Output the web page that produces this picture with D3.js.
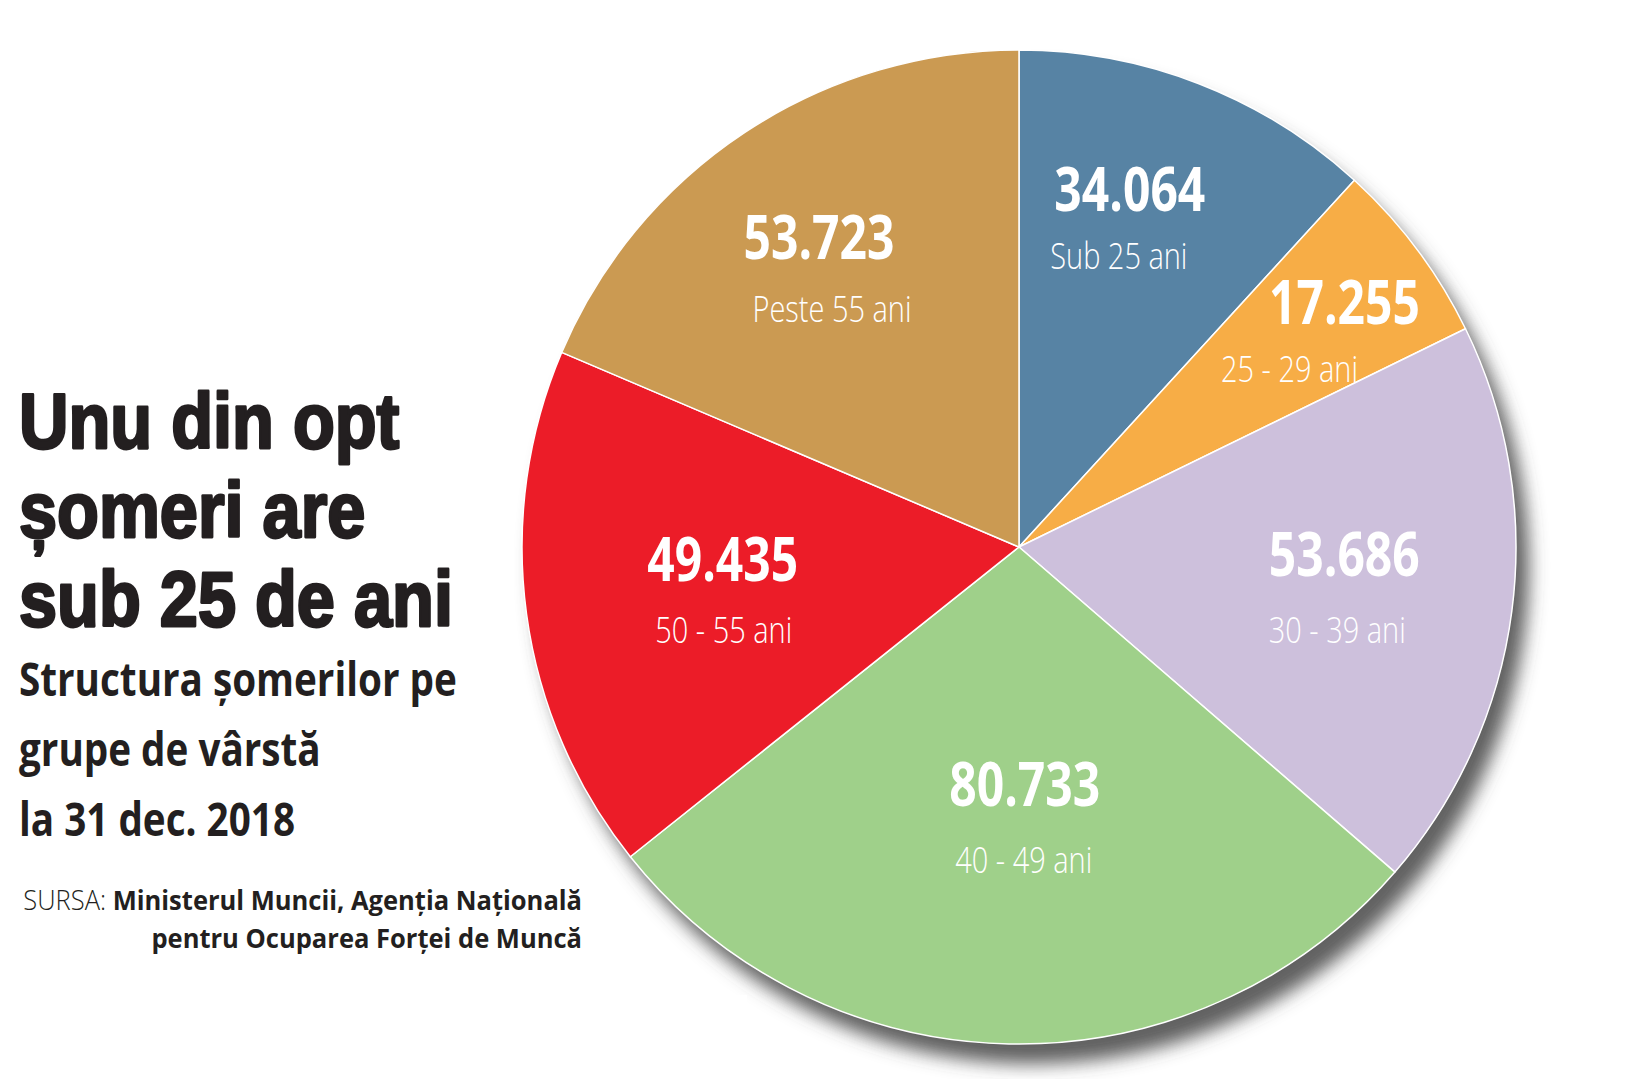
<!DOCTYPE html>
<html>
<head>
<meta charset="utf-8">
<script src="https://cdn.jsdelivr.net/npm/d3@7"></script>
<style>
  html, body { margin: 0; padding: 0; background: #ffffff; }
  svg { display: block; }
</style>
</head>
<body>
<div id="chart"></div>
<script>
// ---- data ----
const categories = ["Sub 25 ani", "25 - 29 ani", "30 - 39 ani", "40 - 49 ani", "50 - 55 ani", "Peste 55 ani"];
const values = [34064, 17255, 53686, 80733, 49435, 53723];
const sliceColors = ["#5783a4", "#f7ad46", "#cdc0dc", "#9fd08a", "#ec1c28", "#cb9a52"];
const titleLines = ["Unu din opt", "șomeri are", "sub 25 de ani"];
const subtitleLines = ["Structura șomerilor pe", "grupe de vârstă", "la 31 dec. 2018"];
const sourceLabel = "SURSA: ";
const sourceLines = ["Ministerul Muncii, Agenția Națională", "pentru Ocuparea Forței de Muncă"];

// ---- label layout (fraction of slice angle, fraction of radius, sub-label offset) ----
const labelLayout = [
  { f: 0.43, k: 0.712, sdx: -11, sdy: 58 },
  { f: 0.61, k: 0.794, sdx: -55, sdy: 58 },
  { f: 0.465, k: 0.657, sdx: -7, sdy: 67 },
  { f: 0.476, k: 0.521, sdx: -1, sdy: 67 },
  { f: 0.52, k: 0.600, sdx: 1, sdy: 62 },
  { f: 0.48, k: 0.705, sdx: 13, sdy: 63 }
];

const W = 1637, H = 1079;
const cx = 1019, cy = 547, R = 497;
const condFont = "'Open Sans', 'Noto Sans', 'DejaVu Sans', sans-serif";
const ink = "#231f20";

const ro = d3.formatLocale({ decimal: ",", thousands: ".", grouping: [3], currency: ["", " lei"] });
const fmt = ro.format(",");

const svg = d3.select("#chart").append("svg")
  .attr("width", W).attr("height", H)
  .attr("viewBox", `0 0 ${W} ${H}`);

const defs = svg.append("defs");
const filt = defs.append("filter").attr("id", "shadow")
  .attr("x", "-10%").attr("y", "-10%").attr("width", "130%").attr("height", "130%");
filt.append("feDropShadow")
  .attr("dx", 13).attr("dy", 20).attr("stdDeviation", 9)
  .attr("flood-color", "#444444").attr("flood-opacity", 0.85);

svg.append("rect").attr("width", W).attr("height", H).attr("fill", "#ffffff");

// helper: horizontal scale to emulate a condensed face, measured on a sample
function condenseFactor(family, weight, size, sample, targetWidth) {
  const t = svg.append("text")
    .attr("font-family", family).attr("font-weight", weight).attr("font-size", size)
    .attr("visibility", "hidden").text(sample);
  const w = t.node().getComputedTextLength();
  t.remove();
  return targetWidth / w;
}

const pie = d3.pie().sort(null).value(d => d)(values);
const arc = d3.arc().innerRadius(0).outerRadius(R);

const pieG = svg.append("g").attr("transform", `translate(${cx},${cy})`);

pieG.append("g").attr("filter", "url(#shadow)")
  .selectAll("path").data(pie).join("path")
  .attr("d", arc)
  .attr("fill", (d, i) => sliceColors[i]);

pieG.append("g")
  .selectAll("path").data(pie).join("path")
  .attr("d", arc)
  .attr("fill", (d, i) => sliceColors[i])
  .attr("stroke", "#ffffff")
  .attr("stroke-width", 1.5)
  .attr("stroke-linejoin", "round");

// white cut-out at lower-left of the shadow (as in the source page)
svg.append("rect").attr("x", 0).attr("y", 995).attr("width", 747).attr("height", H - 995).attr("fill", "#ffffff");

// slice labels
const valSx = condenseFactor(condFont, 700, 60, "53.723", 151);
const subSx = condenseFactor(condFont, 300, 36, "Peste 55 ani", 159);
const labG = pieG.append("g");
pie.forEach((d, i) => {
  const L = labelLayout[i];
  const a = d.startAngle + L.f * (d.endAngle - d.startAngle);
  const r = L.k * R;
  const x = r * Math.sin(a), y = -r * Math.cos(a);
  labG.append("text")
    .attr("transform", `translate(${x},${y}) scale(${valSx},1)`)
    .attr("text-anchor", "middle")
    .attr("font-family", condFont)
    .attr("font-weight", 700)
    .attr("font-size", 60)
    .attr("fill", "#ffffff")
    .text(fmt(values[i]));
  labG.append("text")
    .attr("transform", `translate(${x + L.sdx},${y + L.sdy}) scale(${subSx},1)`)
    .attr("text-anchor", "middle")
    .attr("font-family", condFont)
    .attr("font-weight", 300)
    .attr("font-size", 36)
    .attr("fill", "#ffffff")
    .text(categories[i]);
});

// title
const titleFont = "'Liberation Sans', Arial, sans-serif";
const titleSx = condenseFactor(titleFont, 700, 78, titleLines[2], 434);
const titleG = svg.append("g");
titleLines.forEach((t, i) => {
  titleG.append("text")
    .attr("transform", `translate(19,${448 + i * 89}) scale(${titleSx},1)`)
    .attr("font-family", titleFont)
    .attr("font-weight", 700)
    .attr("font-size", 78)
    .attr("fill", ink)
    .attr("stroke", ink).attr("stroke-width", 2.8).attr("stroke-linejoin", "round")
    .text(t);
});

const subSxT = condenseFactor(condFont, 700, 46, subtitleLines[0], 438);
subtitleLines.forEach((t, i) => {
  titleG.append("text")
    .attr("transform", `translate(19,${696 + i * 70}) scale(${subSxT},1)`)
    .attr("font-family", condFont)
    .attr("font-weight", 700)
    .attr("font-size", 46)
    .attr("fill", ink)
    .text(t);
});

// source
const srcSize = 27;
const srcSample = svg.append("text").attr("font-family", condFont).attr("font-size", srcSize).attr("visibility", "hidden");
srcSample.append("tspan").attr("font-weight", 300).text(sourceLabel);
srcSample.append("tspan").attr("font-weight", 700).text(sourceLines[0]);
const srcSx = 559 / srcSample.node().getComputedTextLength();
srcSample.remove();

const src1 = titleG.append("text")
  .attr("transform", `translate(582,910) scale(${srcSx},1)`)
  .attr("text-anchor", "end")
  .attr("font-family", condFont)
  .attr("font-size", srcSize)
  .attr("fill", ink);
src1.append("tspan").attr("font-weight", 300).text(sourceLabel);
src1.append("tspan").attr("font-weight", 700).text(sourceLines[0]);
titleG.append("text")
  .attr("transform", `translate(582,948) scale(${srcSx},1)`)
  .attr("text-anchor", "end")
  .attr("font-family", condFont)
  .attr("font-weight", 700)
  .attr("font-size", srcSize)
  .attr("fill", ink)
  .text(sourceLines[1]);
</script>
</body>
</html>
